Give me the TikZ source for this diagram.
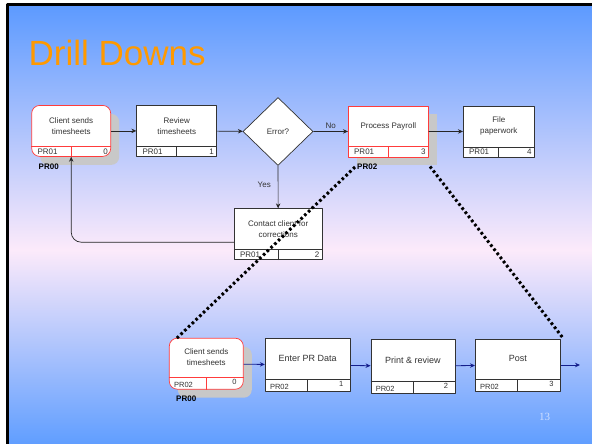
\documentclass[tikz,border=0pt]{standalone}
\usepackage{fontspec}
\setmainfont{Liberation Sans}
\newfontfamily\pagefont{Liberation Serif}
\usetikzlibrary{calc,arrows.meta,shapes.geometric,shadows}
\definecolor{ttl}{RGB}{255,153,0}
\definecolor{redline}{RGB}{255,60,60}
\definecolor{navy}{RGB}{20,30,140}
\definecolor{skytop}{RGB}{92,154,255}
\definecolor{skymid}{RGB}{252,234,250}
\definecolor{skybot}{RGB}{96,158,255}
\definecolor{shad}{RGB}{200,200,200}
\definecolor{pagenum}{RGB}{205,222,255}
\begin{document}
\begin{tikzpicture}[x=1pt,y=-1pt,>={Stealth[length=5pt,width=4.5pt]},line join=round,font=\fontsize{8}{11}\selectfont,
	proc/.style={draw=black!80,fill=white,line width=0.7pt,inner sep=0pt,minimum height=51pt},
	hot/.style={draw=redline,general shadow={fill=shad,shadow xshift=8.5pt,shadow yshift=-8.5pt}},
	boxtxt/.style={align=center,text=black!80,inner sep=0pt},
	celtxt/.style={text=black!80,inner sep=0pt},
	celcode/.style={anchor=west,xshift=6pt},
	celnum/.style={anchor=east,xshift=-3pt},
	flow/.style={->,draw=black!85,line width=0.7pt},
	tag/.style={font=\fontsize{8}{10}\selectfont\bfseries,inner sep=0pt,anchor=west},
	zoomline/.style={line width=3pt,dash pattern=on 2.6pt off 2.6pt}]
	\def\fh{10.5}
	\def\boxtext#1#2#3{\node[boxtxt,#3] (#1-t) at ($(#1.center)+(0,-0.5*\fh)$) {#2};}
	\def\cell#1#2#3#4{%
		\draw[#4,line width=0.7pt] ($(#1.south west)+(0,-\fh)$) -- ($(#1.south east)+(0,-\fh)$);
		\draw[#4,line width=0.7pt] (#1.south) -- ($(#1.south)+(0,-\fh)$);
		\node[celtxt,celcode] (#1-c) at ($(#1.south west)+(0,-0.5*\fh)$) {#2};
		\node[celtxt,celnum] (#1-n) at ($(#1.south east)+(0,-0.5*\fh)$) {#3};}
	\clip (0,0) rectangle (592,444);
	% slide background
	\fill[white] (0,0) rectangle (592,444);
	\shade[top color=skytop,bottom color=skymid] (7,4.5) rectangle (592,250);
	\shade[top color=skymid,bottom color=skybot] (7,250) rectangle (592,444);
	\draw[black,line width=2.6pt] (7.3,444) -- (7.3,4.5) -- (592,4.5);
	\node[text=ttl,font=\fontsize{35}{40}\selectfont,anchor=base west,inner sep=0pt] (title) at (28.5,65.7) {Drill Downs};
	% top level process
	\node[proc,hot,rounded corners=8pt,minimum width=79pt] (client) at (71.2,130.9) {};
	\node[proc,minimum width=80pt] (review) at (176.7,130.9) {};
	\node[draw=black!80,fill=white,line width=0.7pt,diamond,aspect=1,minimum width=70pt,minimum height=68pt,inner sep=0pt] (err) at (278,131.5) {};
	\node[proc,hot,minimum width=80pt] (pay) at (388.3,131.4) {};
	\node[proc,minimum width=71pt] (file) at (498.8,131.5) {};
	\node[proc,minimum width=88pt] (contact) at (278.2,234.2) {};
	\boxtext{client}{Client sends\\timesheets}{}
	\boxtext{review}{Review\\timesheets}{}
	\node[boxtxt] (err-t) at (err) {Error?};
	\boxtext{pay}{Process Payroll}{}
	\boxtext{file}{File\\paperwork}{}
	\boxtext{contact}{Contact client for\\corrections}{}
	\cell{client}{PR01}{0}{redline}
	\cell{review}{PR01}{1}{black!80}
	\cell{pay}{PR01}{3}{redline}
	\cell{file}{PR01}{4}{black!80}
	\cell{contact}{PR01}{2}{black!80}
	\node[tag] (tagA) at (38.5,166.5) {PR00};
	\node[tag] (tagB) at (357,166.5) {PR02};
	\draw[flow] (client) -- (review);
	\draw[flow] (review) -- (err);
	\draw[flow] (err) -- node[above,text=black!80,inner sep=3pt] {No} (pay);
	\draw[flow] (pay) -- (file);
	\draw[flow] (err) -- node[pos=0.44,left,text=black!80,inner sep=7pt] {Yes} (contact);
	\draw[flow,rounded corners=10pt] ([yshift=-8pt]contact.west) -| (client.south);
	% drill down
	\begin{scope}[celcode/.style={anchor=west,xshift=5pt,yshift=-1.5pt},
		celnum/.style={anchor=east,xshift=-7pt,yshift=1.5pt},
		celtxt/.style={text=black!80,inner sep=0pt,font=\fontsize{7.5}{9}\selectfont},
		boxtxt/.style={align=center,text=black!80,inner sep=0pt,font=\fontsize{9}{11}\selectfont},
		flow/.style={->,draw=navy,line width=0.8pt}]
		\def\fh{12.5}
		\node[proc,hot,rounded corners=8pt,minimum width=74pt,minimum height=51pt] (client2) at (206.3,363.7) {};
		\node[proc,minimum width=85pt,minimum height=53pt] (enter) at (307.7,365) {};
		\node[proc,minimum width=84pt,minimum height=54pt] (print) at (412.9,366.2) {};
		\node[proc,minimum width=85pt,minimum height=52pt] (post) at (517.8,365) {};
		\boxtext{client2}{Client sends\\timesheets}{font=\fontsize{8}{11}\selectfont}
		\boxtext{enter}{Enter PR Data}{}
		\boxtext{print}{Print \& review}{}
		\boxtext{post}{Post}{}
		\cell{client2}{PR02}{0}{redline}
		\cell{enter}{PR02}{1}{black!80}
		\cell{print}{PR02}{2}{black!80}
		\cell{post}{PR02}{3}{black!80}
		\node[tag] (tagC) at (176,399) {PR00};
		\coordinate (out) at (580,365);
		\draw[flow] (client2) -- (enter);
		\draw[flow] (enter) -- (print);
		\draw[flow] (print) -- (post);
		\draw[flow] (post) -- (out);
	\end{scope}
	% zoom lines
	\coordinate (zl1) at (355,167);
	\coordinate (zl2) at (176,339);
	\coordinate (zr1) at (430,166.5);
	\coordinate (zr2) at (563,338);
	\draw[zoomline] (zl1) -- (zl2);
	\draw[zoomline] (zr1) -- (zr2);
	\node[font=\pagefont\fontsize{11}{12}\selectfont,text=pagenum,inner sep=0pt] (pnum) at (544.5,417) {13};
\end{tikzpicture}
\end{document}
